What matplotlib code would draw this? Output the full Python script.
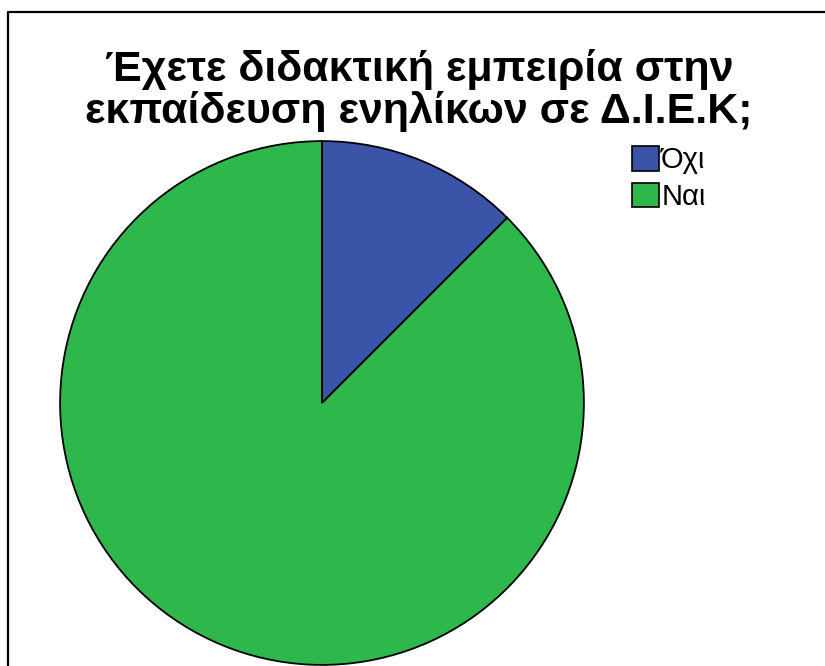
import matplotlib.pyplot as plt
from matplotlib.lines import Line2D
from matplotlib.patches import Patch

# answer shares (%)
labels = ['Όχι', 'Ναι']
shares = [12.5, 87.5]
colors = ['#3b54a8', '#2eb84c']
title = 'Έχετε διδακτική εμπειρία στην\nεκπαίδευση ενηλίκων σε Δ.Ι.Ε.Κ;'

W, H = 825, 666
fig = plt.figure(figsize=(W / 100, H / 100), dpi=100)

# pie sits in a square axes, centre (322, 403) px, radius ~262 px
cx, cy, r = 322, 403, 264
ax = fig.add_axes([(cx - r) / W, (H - cy - r) / H, 2 * r / W, 2 * r / H])
ax.pie(shares, colors=colors, startangle=90, counterclock=False, radius=1,
       wedgeprops=dict(edgecolor='black', linewidth=1.3))
ax.set_xlim(-1.008, 1.008)
ax.set_ylim(-1.008, 1.008)
ax.set_aspect('equal')
ax.axis('off')

# chart frame (top and left edges only show)
fig.add_artist(Line2D([8 / W, 8 / W, 1.0], [0.0, 1 - 12 / H, 1 - 12 / H],
                      transform=fig.transFigure, color='black', linewidth=1.6))

fig.text(419 / W, 1 - 49 / H, title, ha='center', va='top',
         fontsize=31, fontweight='bold', family=['Liberation Sans', 'DejaVu Sans'],
         linespacing=1.02)

handles = [Patch(facecolor=c, edgecolor='black', linewidth=1.2) for c in colors]
fig.legend(handles, labels, loc='upper left', bbox_to_anchor=(632 / W, 1 - 146 / H),
           frameon=False, prop=dict(family=['Liberation Sans Narrow', 'Liberation Sans'], size=21),
           handlelength=0.92, handleheight=0.92, handletextpad=0.08, labelspacing=0.28,
           borderpad=0, borderaxespad=0)

fig.savefig('out.png', dpi=100)
